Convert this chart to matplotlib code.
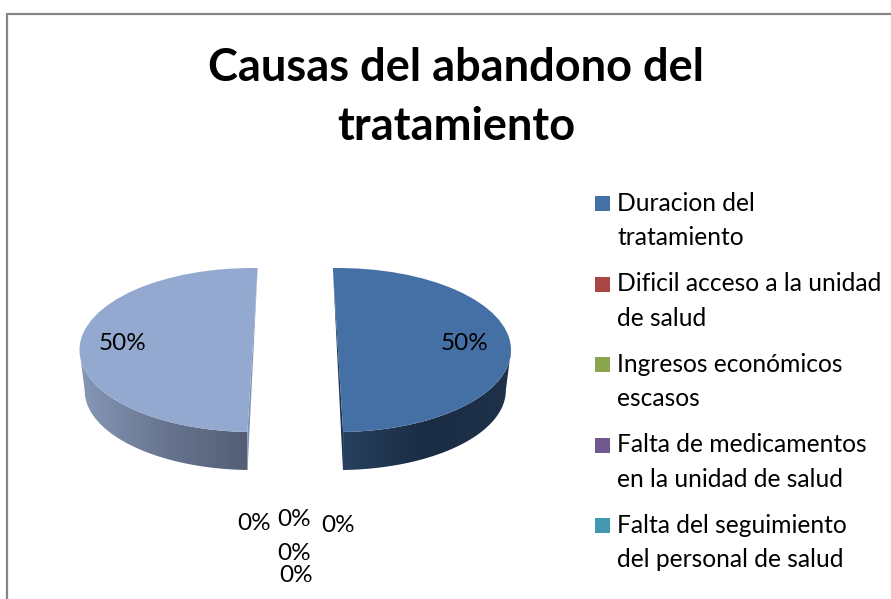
import numpy as np
import matplotlib
matplotlib.use("Agg")
import matplotlib.pyplot as plt
from matplotlib.colors import LinearSegmentedColormap
from matplotlib.patches import Polygon, Rectangle, Wedge
from matplotlib.transforms import Affine2D

plt.rcParams["font.family"] = ["Lato", "DejaVu Sans"]

title = "Causas del abandono del\ntratamiento"
# seven data points in the sheet, the picture only shows five legend rows
values = [50, 0, 0, 0, 0, 0, 50]
legend_labels = [
    "Duracion del\ntratamiento",
    "Dificil acceso a la unidad\nde salud",
    "Ingresos económicos\nescasos",
    "Falta de medicamentos\nen la unidad de salud",
    "Falta del seguimiento\ndel personal de salud",
]
colors = ["#4470A5", "#AA4644", "#89A54E", "#71588F", "#4198AF", "#DB843D", "#93A9CF"]
wall_colors = {
    0: ["#27405F", "#1A2C43", "#1E3249"],
    6: ["#8797B8", "#687590", "#535E74"],
}
cut_colors = {0: "#1F3550", 6: "#8094B6"}

# pixel placement of the percent labels, one per value
label_xy = [(465, 343), (338, 525), (296, 575), (294, 553), (254, 523), (294, 519), (123, 343)]
slice_center = {0: (338, 350), 6: (252.5, 350)}
# small perspective tilt of each cut
tilt = {0: 1.7, 6: -1.7}
RX, RY = 173, 82
DEPTH = 40.5
SHRINK = 0.97


def ell(cx, cy, t, k=1.0, dy=0.0):
    t = np.radians(t)
    return np.c_[cx + k * RX * np.cos(t), cy + dy - k * RY * np.sin(t)]


fig = plt.figure(figsize=(8.91, 5.99), dpi=100)
ax = fig.add_axes([0, 0, 1, 1])

total = sum(values)
angle = 90.0
for i, v in enumerate(values):
    span = v / total * 360
    t_start, t_end = angle - span, angle
    angle -= span
    if v == 0:
        continue
    cx, cy = slice_center[i]
    t_start += tilt[i]
    t_end += tilt[i]

    # which end of the cut is at the back and which at the front
    if i == 0:
        back_t, front_t, rim_t = t_end, t_start, 0
    else:
        back_t, front_t, rim_t = t_start, t_end, -180

    # outer wall, only the lower half of the rim faces the viewer
    arc = np.linspace(front_t, rim_t, 80)
    wall = np.r_[ell(cx, cy, arc), ell(cx, cy, arc[::-1], SHRINK, DEPTH)]
    cmap = LinearSegmentedColormap.from_list("wall", wall_colors[i])
    x0, x1 = wall[:, 0].min(), wall[:, 0].max()
    y0, y1 = wall[:, 1].min(), wall[:, 1].max()
    im = ax.imshow(np.linspace(0, 1, 256)[None, :], cmap=cmap, aspect="auto",
                   extent=(x0, x1, y1, y0), zorder=2)
    im.set_clip_path(Polygon(wall, transform=ax.transData))

    # cut face seen as a sliver next to the top
    back_pt = ell(cx, cy, np.array([back_t]))[0]
    front_pt = ell(cx, cy, np.array([front_t]))[0]
    base_pt = ell(cx, cy, np.array([front_t]), SHRINK, DEPTH)[0]
    ax.add_patch(Polygon([back_pt, front_pt, base_pt], closed=True, fc=cut_colors[i], lw=0, zorder=2))

    trans = Affine2D().scale(RX, -RY).translate(cx, cy) + ax.transData
    ax.add_patch(Wedge((0, 0), 1, t_start, t_end, fc=colors[i], lw=0, transform=trans, zorder=3))

for v, (x, y) in zip(values, label_xy):
    ax.text(x, y, f"{v / total:.0%}", ha="center", va="center", fontsize=17.5,
            color="black", zorder=5)

ax.text(456, 97.5, title, ha="center", va="center", fontsize=32.5, fontweight="bold",
        linespacing=1.5, color="black")

for i, lab in enumerate(legend_labels):
    y = 196 + i * 80.5
    ax.add_patch(Rectangle((595, y), 15, 15, fc=colors[i], lw=0))
    ax.text(617, y + 24.5, lab, ha="left", va="center", fontsize=17.7, linespacing=1.58,
            color="black")

# chart frame, cut off by the crop on the right and bottom
ax.plot([7, 7, 891], [599, 14, 14], color="#868686", lw=1.6, solid_joinstyle="miter")

ax.set_xlim(0, 891)
ax.set_ylim(599, 0)
ax.axis("off")
fig.savefig("out.png", dpi=100, facecolor="white")
